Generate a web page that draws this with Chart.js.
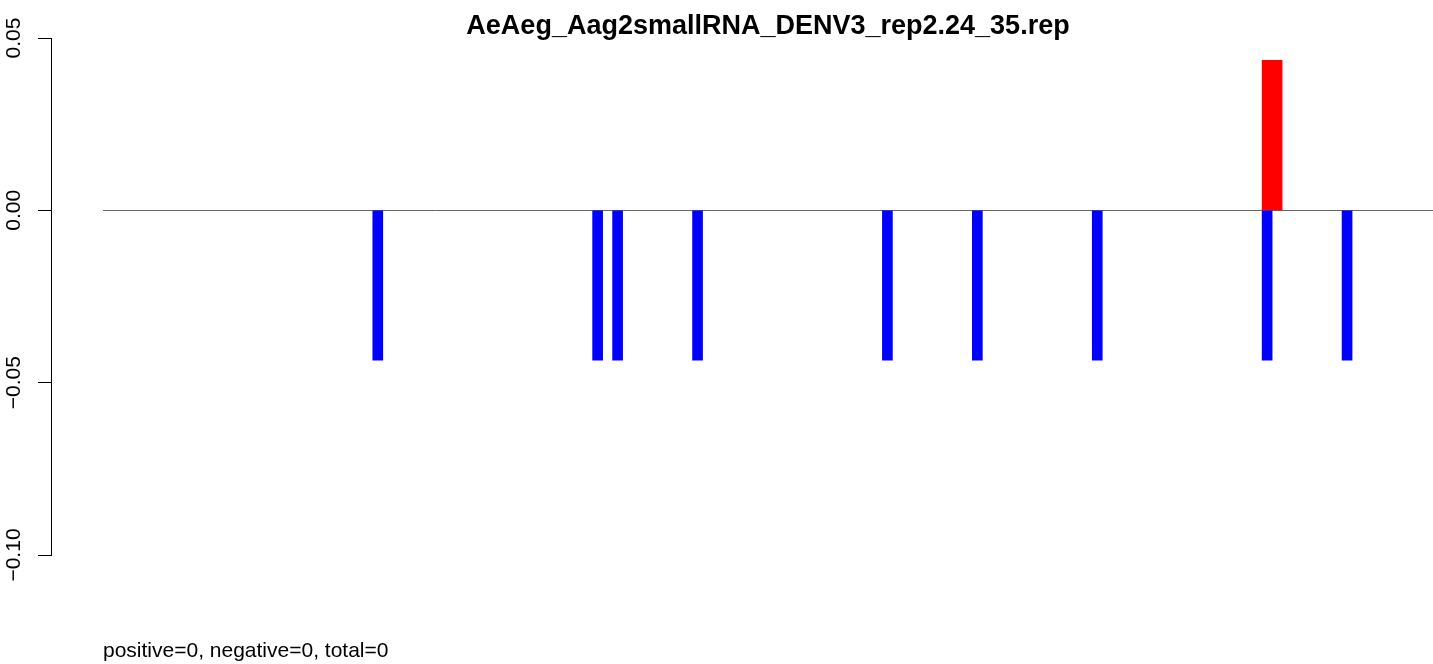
<!DOCTYPE html>
<html>
<head>
<meta charset="utf-8">
<title>AeAeg_Aag2smallRNA_DENV3_rep2.24_35.rep</title>
<script src="https://cdn.jsdelivr.net/npm/chart.js@4.4.1/dist/chart.umd.min.js"></script>
<style>
  html, body { margin: 0; padding: 0; background: #fff; }
  #wrap { width: 1433px; height: 664px; position: relative; }
</style>
</head>
<body>
<div id="wrap"><canvas id="readsChart"></canvas></div>
<script>
// data
const chartTitle = 'AeAeg_Aag2smallRNA_DENV3_rep2.24_35.rep';
const footerText = 'positive=0, negative=0, total=0';

// bar centres along the reference (bar units)
const negPositions = [27.5, 49.5, 51.5, 59.5, 78.5, 87.5, 99.5, 116.5, 124.5];
const negValues = [-0.0435, -0.0435, -0.0435, -0.0435, -0.0435, -0.0435, -0.0435, -0.0435, -0.0435];
const posPositions = [117];
const posValues = [0.0435];

const yTicks = [-0.10, -0.05, 0.00, 0.05];
const xRange = [-5.204, 133.1];

Chart.defaults.font.family = '"Liberation Sans", Arial, Helvetica, sans-serif';
Chart.defaults.color = '#000';

function toPoints(xs, ys) {
  return xs.map((x, i) => ({ x: x, y: ys[i] }));
}

// zero line, title and footer
const extrasPlugin = {
  id: 'extras',
  beforeDatasetsDraw(chart) {
    const c = chart.ctx;
    const xs = chart.scales.x;
    const ys = chart.scales.y;
    const y0 = Math.round(ys.getPixelForValue(0)) + 0.5;
    c.save();
    c.strokeStyle = '#666';
    c.lineWidth = 1;
    c.beginPath();
    c.moveTo(xs.getPixelForValue(0), y0);
    c.lineTo(chart.chartArea.right, y0);
    c.stroke();
    c.restore();
  },
  afterDraw(chart) {
    const c = chart.ctx;
    const xs = chart.scales.x;
    const left = xs.getPixelForValue(0);
    c.save();
    c.fillStyle = '#000';
    c.font = 'bold 27px "Liberation Sans", Arial, sans-serif';
    c.textAlign = 'center';
    c.textBaseline = 'alphabetic';
    c.fillText(chartTitle, (left + chart.chartArea.right) / 2, 34);
    c.font = '21px "Liberation Sans", Arial, sans-serif';
    c.textAlign = 'left';
    c.fillText(footerText, left, 657);
    c.restore();
  }
};

const ctx = document.getElementById('readsChart').getContext('2d');

const chart = new Chart(ctx, {
  type: 'bar',
  data: {
    datasets: [
      {
        label: 'negative',
        data: toPoints(negPositions, negValues),
        backgroundColor: '#0000ff',
        borderWidth: 0,
        barThickness: 10,
        grouped: false
      },
      {
        label: 'positive',
        data: toPoints(posPositions, posValues),
        backgroundColor: '#ff0000',
        borderWidth: 0,
        barThickness: 20,
        grouped: false
      }
    ]
  },
  options: {
    responsive: true,
    maintainAspectRatio: false,
    animation: false,
    layout: { padding: { top: 38, bottom: 109, left: 0, right: 0 } },
    plugins: {
      legend: { display: false },
      tooltip: { enabled: false }
    },
    scales: {
      x: {
        type: 'linear',
        display: false,
        offset: false,
        min: xRange[0],
        max: xRange[1]
      },
      y: {
        min: yTicks[0],
        max: yTicks[yTicks.length - 1],
        afterBuildTicks: (scale) => {
          scale.ticks = yTicks.map(v => ({ value: v }));
        },
        afterFit: (scale) => {
          scale.width = 51;
        },
        border: { display: true, color: '#000', width: 1 },
        grid: {
          drawOnChartArea: false,
          drawTicks: true,
          tickLength: 13,
          color: '#000'
        },
        ticks: {
          minRotation: 90,
          maxRotation: 90,
          padding: -3,
          crossAlign: 'center',
          font: { size: 21 },
          callback: (v) => {
            let s = Math.abs(v) < 1e-9 ? '0.00' : Number(v).toFixed(2);
            return s.replace('-', '\u2212');
          }
        }
      }
    }
  },
  plugins: [extrasPlugin]
});
</script>
</body>
</html>
